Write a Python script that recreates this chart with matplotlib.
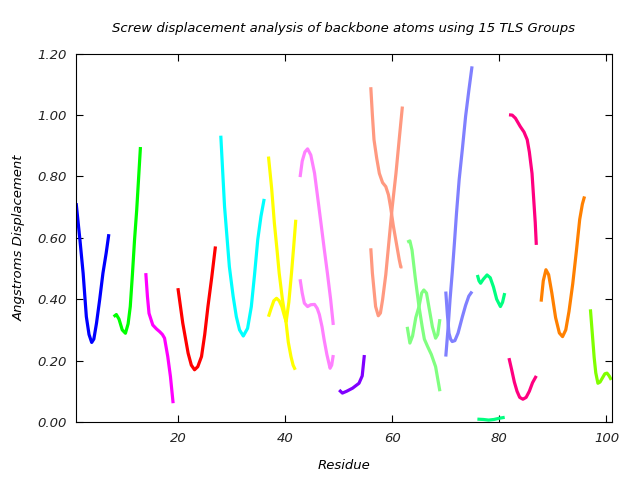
import matplotlib
matplotlib.use("Agg")
import matplotlib.pyplot as plt

# screw displacement per TLS group, two curves per group where visible
# (residue, displacement) pairs
g1_x = [1.0, 1.7, 2.3, 2.9, 3.4, 3.9, 4.3, 4.8, 5.4, 6.0, 6.6, 7.1]
g1_y = [0.713, 0.594, 0.485, 0.343, 0.285, 0.259, 0.27, 0.322, 0.40, 0.485, 0.55, 0.612]

g2_x = [8.0, 8.5, 9.0, 9.6, 10.2, 10.7, 11.1, 11.5, 11.9, 12.3, 12.6, 13.0]
g2_y = [0.343, 0.35, 0.335, 0.30, 0.289, 0.32, 0.376, 0.48, 0.594, 0.69, 0.778, 0.896]

g3_x = [14.0, 14.3, 14.6, 15.3, 16.0, 16.6, 17.1, 17.5, 18.1, 18.6, 19.1]
g3_y = [0.485, 0.41, 0.354, 0.316, 0.303, 0.294, 0.285, 0.273, 0.213, 0.148, 0.061]

g4_x = [20.0, 20.9, 21.9, 22.5, 23.1, 23.7, 24.4, 25.0, 25.6, 26.3, 27.0]
g4_y = [0.436, 0.322, 0.224, 0.185, 0.170, 0.18, 0.213, 0.285, 0.376, 0.47, 0.572]

g5_x = [28.0, 28.7, 29.6, 30.3, 30.9, 31.5, 32.2, 33.0, 33.7, 34.3, 34.9, 35.5, 36.1]
g5_y = [0.933, 0.702, 0.506, 0.41, 0.343, 0.30, 0.280, 0.305, 0.376, 0.48, 0.594, 0.67, 0.727]

g6a_x = [36.9, 37.5, 38.0, 38.5, 38.9, 39.5, 40.2, 40.6, 41.1, 41.5, 41.9]
g6a_y = [0.865, 0.76, 0.648, 0.56, 0.485, 0.40, 0.322, 0.26, 0.213, 0.185, 0.170]
g6b_x = [36.9, 37.4, 37.9, 38.4, 38.9, 39.4, 39.8, 40.2, 40.7, 41.2, 41.6, 42.0]
g6b_y = [0.343, 0.37, 0.395, 0.403, 0.395, 0.376, 0.35, 0.327, 0.39, 0.485, 0.57, 0.659]

g7a_x = [42.8, 43.2, 43.7, 44.2, 44.8, 45.5, 46.1, 46.7, 47.3, 47.9, 48.5, 49.0]
g7a_y = [0.798, 0.85, 0.88, 0.890, 0.87, 0.811, 0.73, 0.648, 0.565, 0.485, 0.40, 0.316]
g7b_x = [42.8, 43.2, 43.6, 44.2, 44.8, 45.5, 46.0, 46.4, 46.9, 47.3, 47.8, 48.4, 48.7, 49.0]
g7b_y = [0.465, 0.42, 0.387, 0.376, 0.382, 0.383, 0.37, 0.35, 0.31, 0.267, 0.22, 0.175, 0.185, 0.218]

g8_x = [50.1, 50.7, 51.5, 52.6, 53.8, 54.4, 54.8]
g8_y = [0.104, 0.094, 0.100, 0.110, 0.126, 0.15, 0.218]

g9a_x = [56.0, 56.3, 56.6, 57.1, 57.6, 58.2, 58.8, 59.3, 59.7, 60.2, 60.7, 61.3, 61.6, 61.9]
g9a_y = [1.091, 1.00, 0.92, 0.86, 0.81, 0.78, 0.767, 0.74, 0.70, 0.64, 0.59, 0.53, 0.505, 0.506]
g9b_x = [56.0, 56.3, 56.9, 57.4, 57.8, 58.2, 58.8, 59.4, 60.0, 60.7, 61.3, 61.9]
g9b_y = [0.566, 0.485, 0.376, 0.346, 0.355, 0.398, 0.48, 0.59, 0.70, 0.81, 0.92, 1.028]

g10a_x = [62.8, 63.3, 63.7, 64.3, 65.0, 65.6, 66.0, 66.6, 67.3, 68.1, 68.5, 68.9]
g10a_y = [0.586, 0.59, 0.56, 0.47, 0.376, 0.31, 0.27, 0.246, 0.22, 0.18, 0.14, 0.10]
g10b_x = [62.8, 63.3, 63.8, 64.4, 65.0, 65.5, 65.9, 66.4, 66.9, 67.5, 68.1, 68.5, 68.9]
g10b_y = [0.31, 0.257, 0.28, 0.34, 0.376, 0.42, 0.43, 0.42, 0.37, 0.31, 0.273, 0.285, 0.335]

g11a_x = [70.0, 70.4, 70.8, 71.2, 71.6, 72.0, 72.5, 73.1, 73.7, 74.3, 74.9]
g11a_y = [0.213, 0.30, 0.40, 0.485, 0.58, 0.68, 0.79, 0.89, 0.996, 1.08, 1.159]
g11b_x = [70.0, 70.3, 70.6, 70.9, 71.2, 71.7, 72.3, 73.1, 73.7, 74.3, 74.9]
g11b_y = [0.425, 0.35, 0.289, 0.27, 0.262, 0.265, 0.29, 0.343, 0.38, 0.41, 0.425]

g12a_x = [75.9, 76.2, 76.5, 77.0, 77.7, 78.3, 78.9, 79.5, 80.2, 80.6, 81.0]
g12a_y = [0.479, 0.46, 0.452, 0.465, 0.479, 0.47, 0.44, 0.40, 0.376, 0.39, 0.42]
g12b_x = [75.9, 77.0, 78.0, 79.0, 80.0, 81.0]
g12b_y = [0.009, 0.008, 0.006, 0.008, 0.012, 0.015]

g13a_x = [81.8, 82.4, 83.0, 83.9, 84.6, 85.2, 85.6, 86.1, 86.4, 86.7, 86.9]
g13a_y = [1.001, 1.00, 0.99, 0.963, 0.945, 0.92, 0.88, 0.81, 0.73, 0.65, 0.577]
g13b_x = [81.8, 82.3, 82.8, 83.3, 83.8, 84.4, 85.0, 85.6, 86.2, 86.9]
g13b_y = [0.208, 0.17, 0.13, 0.10, 0.08, 0.074, 0.08, 0.10, 0.128, 0.15]

g14_x = [87.8, 88.2, 88.7, 89.2, 89.8, 90.5, 91.2, 91.8, 92.4, 93.0, 93.7, 94.4, 95.0, 95.5, 95.9]
g14_y = [0.392, 0.46, 0.496, 0.48, 0.42, 0.34, 0.29, 0.278, 0.30, 0.36, 0.45, 0.56, 0.66, 0.71, 0.735]

g15_x = [97.0, 97.3, 97.7, 98.0, 98.4, 98.8, 99.3, 99.7, 100.1, 100.5, 100.9]
g15_y = [0.367, 0.30, 0.21, 0.16, 0.126, 0.13, 0.145, 0.157, 0.159, 0.15, 0.137]

curves = [
    (g1_x, g1_y, "#0000ff"),
    (g2_x, g2_y, "#00ff00"),
    (g3_x, g3_y, "#ff00ff"),
    (g4_x, g4_y, "#ff0000"),
    (g5_x, g5_y, "#00ffff"),
    (g6a_x, g6a_y, "#ffff00"),
    (g6b_x, g6b_y, "#ffff00"),
    (g7a_x, g7a_y, "#ff80ff"),
    (g7b_x, g7b_y, "#ff80ff"),
    (g8_x, g8_y, "#8000ff"),
    (g9a_x, g9a_y, "#ff9980"),
    (g9b_x, g9b_y, "#ff9980"),
    (g10a_x, g10a_y, "#80ff80"),
    (g10b_x, g10b_y, "#80ff80"),
    (g11a_x, g11a_y, "#8080ff"),
    (g11b_x, g11b_y, "#8080ff"),
    (g12a_x, g12a_y, "#00ff80"),
    (g12b_x, g12b_y, "#00ff80"),
    (g13a_x, g13a_y, "#ff0080"),
    (g13b_x, g13b_y, "#ff0080"),
    (g14_x, g14_y, "#ff8000"),
    (g15_x, g15_y, "#80ff00"),
]

x_ticks = [20, 40, 60, 80, 100]
y_ticks = [0.0, 0.2, 0.4, 0.6, 0.8, 1.0, 1.2]

fig = plt.figure(figsize=(6.4, 4.8), dpi=100)
ax = fig.add_axes([0.119, 0.121, 0.837, 0.767])

for xs, ys, c in curves:
    ax.plot(xs, ys, color=c, lw=2.3, solid_capstyle="butt", solid_joinstyle="round")

ax.set_xlim(1, 101)
ax.set_ylim(0, 1.2)
ax.set_xticks(x_ticks)
ax.set_yticks(y_ticks)
ax.set_yticklabels(["%.2f" % v for v in y_ticks])
ax.tick_params(direction="in", top=True, right=True, length=5, width=0.8,
               labelsize=9.5, pad=7)
for lab in ax.get_xticklabels() + ax.get_yticklabels():
    lab.set_style("italic")
    lab.set_color("#222222")

ax.set_xlabel("Residue", style="italic", fontsize=9.5, labelpad=10)
ax.set_ylabel("Angstroms Displacement", style="italic", fontsize=9.5, labelpad=8)
ax.set_title("Screw displacement analysis of backbone atoms using 15 TLS Groups",
             style="italic", fontsize=9.5, pad=16)

fig.savefig("out.png", dpi=100)
